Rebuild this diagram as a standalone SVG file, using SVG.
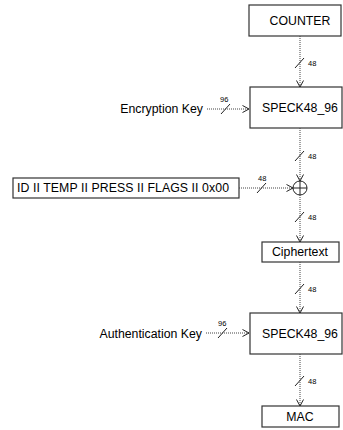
<svg xmlns="http://www.w3.org/2000/svg" width="343" height="430" viewBox="0 0 343 430">
<style>
.box{fill:#fff;stroke:#333;stroke-width:1.2}
.t{font-family:"Liberation Sans",Arial,sans-serif;font-size:12.3px;fill:#000}
.c{text-anchor:middle}
.r{text-anchor:end}
.s{font-family:"Liberation Sans",Arial,sans-serif;font-size:7.5px;fill:#000}
.w{fill:none;stroke:#444;stroke-width:1;stroke-dasharray:1,1}
.sl{fill:none;stroke:#222;stroke-width:1}
</style>
<defs>
<marker id="ah" viewBox="0 0 8 8" refX="7" refY="4" markerWidth="8" markerHeight="8" markerUnits="userSpaceOnUse" orient="auto">
<path d="M0.5,0.5 L7,4 L0.5,7.5" fill="none" stroke="#222" stroke-width="1"/>
</marker>
</defs>
<rect width="343" height="430" fill="#fff"/>
<g id="counter"><rect class="box" x="249" y="5" width="92" height="31"/><text class="t c" x="300" y="25">COUNTER</text></g>
<g id="speck1"><rect class="box" x="250" y="87" width="92" height="41"/><text class="t c" x="300" y="112">SPECK48_96</text></g>
<g id="enckey"><text class="t r" x="203" y="113">Encryption Key</text></g>
<g id="data"><rect class="box" x="13" y="178" width="226" height="20"/><text class="t" x="17" y="192" textLength="212" lengthAdjust="spacing">ID II TEMP II PRESS II FLAGS II 0x00</text></g>
<g id="xor"><circle cx="300" cy="188" r="7" fill="#fff" stroke="#222" stroke-width="1"/><path d="M293,188 H307 M300,181 V195" stroke="#222" stroke-width="1"/></g>
<g id="ciphertext"><rect class="box" x="262" y="242" width="77" height="20"/><text class="t c" x="300" y="256">Ciphertext</text></g>
<g id="authkey"><text class="t r" x="202" y="338">Authentication Key</text></g>
<g id="speck2"><rect class="box" x="250" y="313" width="92" height="41"/><text class="t c" x="300" y="338">SPECK48_96</text></g>
<g id="mac"><rect class="box" x="262" y="406" width="77" height="21"/><text class="t c" x="300" y="421">MAC</text></g>
<g id="connectors">
<line class="w" x1="300" y1="36" x2="300" y2="87" marker-end="url(#ah)"/>
<line class="sl" x1="295" y1="68" x2="304" y2="58"/><text class="s" x="308" y="66">48</text>
<line class="w" x1="300" y1="128" x2="300" y2="181" marker-end="url(#ah)"/>
<line class="sl" x1="295" y1="161" x2="304" y2="151"/><text class="s" x="308" y="159">48</text>
<line class="w" x1="300" y1="195" x2="300" y2="242" marker-end="url(#ah)"/>
<line class="sl" x1="295" y1="222" x2="304" y2="212"/><text class="s" x="308" y="220">48</text>
<line class="w" x1="300" y1="262" x2="300" y2="313" marker-end="url(#ah)"/>
<line class="sl" x1="295" y1="294" x2="304" y2="284"/><text class="s" x="308" y="292">48</text>
<line class="w" x1="300" y1="354" x2="300" y2="406" marker-end="url(#ah)"/>
<line class="sl" x1="295" y1="386" x2="304" y2="376"/><text class="s" x="308" y="384">48</text>
<line class="w" x1="207" y1="109" x2="249" y2="109" marker-end="url(#ah)"/>
<line class="sl" x1="221" y1="114" x2="230" y2="104"/><text class="s" x="220" y="102">96</text>
<line class="w" x1="239" y1="188" x2="293" y2="188" marker-end="url(#ah)"/>
<line class="sl" x1="257" y1="193" x2="266" y2="183"/><text class="s" x="258" y="181">48</text>
<line class="w" x1="206" y1="333" x2="249" y2="333" marker-end="url(#ah)"/>
<line class="sl" x1="218" y1="338" x2="227" y2="328"/><text class="s" x="218" y="326">96</text>
</g>
</svg>
